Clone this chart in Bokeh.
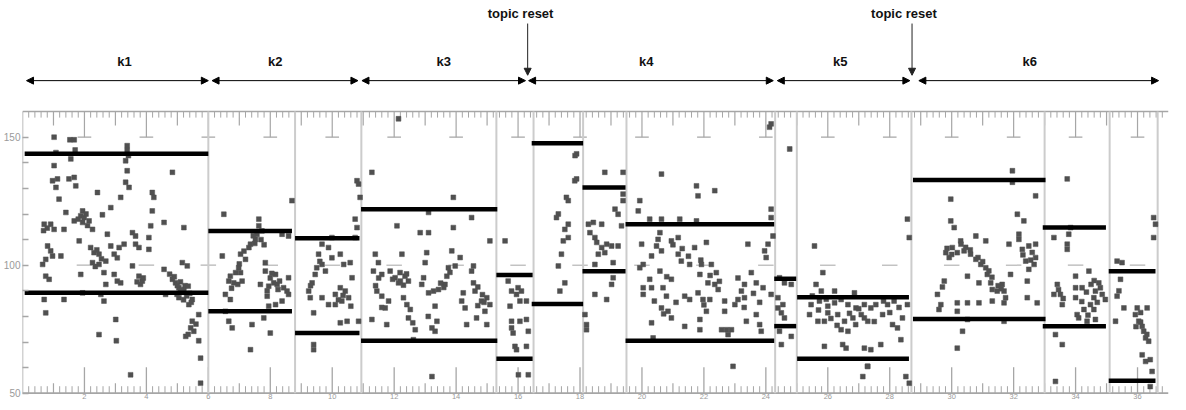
from bokeh.plotting import figure
from bokeh.models import Range1d, FixedTicker, Arrow, NormalHead, ColumnDataSource
from bokeh.embed import file_html
from bokeh.resources import INLINE
from bokeh.core.properties import value

# ---------------- data ----------------
# segment boundaries (x units) and the upper / lower bound bars of each segment
bar_start = [0.07, 6.0, 8.80, 10.93, 15.30, 16.44, 18.08, 19.47, 24.27, 25.01, 28.75, 32.94, 35.07]
bar_end   = [6.0, 8.70, 10.88, 15.33, 16.47, 18.10, 19.47, 24.27, 24.98, 28.62, 33.03, 34.98, 36.58]
bar_upper = [143.5, 113.4, 110.5, 121.9, 96.2, 147.6, 130.4, 116.0, 94.7, 87.5, 133.3, 114.7, 97.6]
bar_lower = [89.2, 82.0, 73.5, 70.5, 63.5, 84.8, 97.6, 70.5, 76.2, 63.5, 79.0, 76.2, 54.9]
boundaries = [6.0, 8.8, 10.94, 15.3, 16.5, 18.1, 19.5, 24.3, 25.0, 28.7, 33.0, 35.1, 36.65]

# header: topics k1..k6 and the two topic resets
topic_names = ["k1", "k2", "k3", "k4", "k5", "k6"]
topic_start = [0.13, 6.12, 10.96, 16.34, 24.37, 28.94]
topic_end   = [6.0, 10.83, 16.24, 24.24, 28.65, 36.68]
topic_label_x = [3.29, 8.16, 13.60, 20.14, 26.40, 32.52]
reset_x = [16.31, 28.72]
reset_text_x = [16.08, 28.46]
reset_labels = ["topic reset", "topic reset"]

# axis ticks
x_major = list(range(2, 37, 2))
x_major_labels = [str(t) for t in x_major]
y_ticks = list(range(50, 151, 10))

# scatter points
dot_x = [
    # k1
    1.02, 1.53, 1.67, 1.08, 1.70, 1.56, 3.38, 3.38, 3.42, 3.33, 3.38, 1.02, 0.97, 1.13, 1.08, 1.50,
    1.67, 1.72, 2.42, 3.33, 3.44, 3.17, 1.18, 4.19, 4.24, 4.84, 2.85, 4.19, 2.58, 1.40, 1.94, 1.88,
    1.99, 0.70, 0.91, 1.02, 1.34, 1.67, 1.94, 2.15, 2.26, 4.14, 4.57, 5.21, 2.74, 3.55, 3.65, 4.08,
    1.83, 0.81, 0.91, 2.20, 2.31, 2.47, 2.85, 3.12, 3.28, 3.65, 3.76, 4.08, 0.65, 0.75, 0.97, 1.24,
    2.26, 2.47, 2.69, 2.96, 3.06, 3.55, 4.57, 5.16, 5.32, 0.75, 0.86, 1.88, 2.63, 2.96, 3.06, 3.17,
    3.76, 3.87, 3.81, 4.84, 4.94, 5.05, 5.21, 4.99, 2.69, 0.70, 1.34, 1.94, 2.53, 2.63, 4.62, 5.05,
    5.48, 5.37, 0.75, 5.69, 5.48, 5.43, 5.27, 5.53, 3.01, 2.47, 3.03, 5.69, 5.75, 3.49, 5.75,
    5.10, 5.25, 5.40, 5.15, 5.60, 5.35,
    5.00, 5.10, 5.30, 5.20, 5.45, 5.35, 4.90, 4.75, 2.05, 1.80, 2.10, 2.40, 2.55, 2.35, 3.70, 3.90,
    0.80, 0.68,
    # k2
    6.50, 6.45, 7.04, 7.31, 7.63, 7.63, 7.57, 7.73, 7.52, 7.36, 7.20, 6.98, 6.88, 6.71, 6.66, 6.82,
    7.09, 7.04, 6.55, 6.71, 6.55, 6.66, 6.77, 7.41, 8.00, 7.36, 7.84, 7.84, 8.17, 8.11, 7.68, 7.95,
    8.22, 7.90, 7.79, 8.17, 8.38, 8.54, 8.59, 8.70, 8.38, 8.59, 8.59, 8.43, 7.70, 7.80, 8.00, 7.90,
    7.00, 7.15, 6.95, 6.75, 7.50, 7.45, 8.05, 8.25, 8.30, 7.95,
    9.99, 9.67, 9.88, 9.56, 9.99, 9.67, 9.78, 9.45, 9.35, 9.24, 9.29, 9.67, 10.10, 10.26, 10.42, 10.53,
    10.31, 10.10, 10.64, 10.37, 10.58, 10.26, 9.88, 9.40, 10.26, 10.48, 10.85, 9.40, 9.40, 10.80, 10.85,
    10.90, 10.74, 10.80, 10.74, 9.60, 9.50, 10.20, 10.35, 9.30, 10.60,
    # k3
    11.28, 12.09, 12.84, 13.11, 13.11, 13.91, 13.91, 14.50, 15.09, 13.05, 13.00, 13.86, 14.13, 14.56,
    14.50, 11.39, 11.49, 11.33, 11.60, 11.87, 12.03, 12.19, 12.35, 12.25, 12.14, 12.46, 12.95, 12.89,
    13.11, 13.27, 13.43, 13.64, 13.70, 13.75, 13.97, 11.44, 11.60, 11.82, 11.71, 12.30, 12.41, 12.52,
    12.46, 12.68, 13.32, 13.38, 13.22, 13.32, 14.23, 14.18, 14.29, 14.56, 14.61, 14.82, 14.99, 15.09,
    14.93, 14.66, 14.99, 14.34, 11.28, 11.76, 12.62, 13.22, 12.14,
    12.20, 12.30, 12.40, 11.95, 11.50, 11.40, 13.50, 13.60, 13.80, 14.70, 14.85, 14.90, 14.70, 13.10,
    12.60, 11.60,
    15.58, 15.68, 15.79, 16.00, 15.95, 16.11, 16.27, 16.06, 15.74, 15.79, 16.06, 16.27, 15.79, 15.84,
    16.33, 15.90, 15.95, 16.27, 16.01, 16.33,
    # k4
    17.89, 17.83, 17.62, 17.56, 17.30, 17.24, 17.62, 17.51, 17.46, 17.40, 17.30, 17.51, 17.35, 17.62,
    17.84, 17.89, 18.16, 18.21, 18.21,
    18.80, 19.39, 19.39, 19.39, 19.13, 19.23, 19.34, 18.27, 18.43, 18.70, 18.32, 18.48, 18.54, 18.70,
    18.86, 19.02, 19.23, 18.59, 18.80, 18.48, 19.07, 19.07, 19.02, 18.48, 18.86,
    20.63, 21.76, 21.81, 22.35, 19.93, 19.88, 20.25, 20.63, 21.22, 21.76, 24.17, 24.17, 24.23, 24.07,
    23.96, 24.01, 19.99, 20.58, 20.52, 20.47, 20.95, 21.17, 21.70, 22.08, 23.42, 20.63, 20.31, 21.17,
    21.27, 21.54, 21.92, 22.24, 22.40, 19.93, 20.04, 20.58, 20.25, 20.95, 20.04, 20.31, 20.04, 20.68,
    20.79, 21.38, 21.54, 21.81, 21.97, 22.19, 22.13, 22.35, 22.46, 21.87, 23.53, 23.31, 23.21, 23.10,
    23.00, 22.67, 22.67, 23.31, 23.69, 23.91, 24.17, 20.63, 20.84, 20.95, 22.08, 21.87, 21.38, 22.73,
    22.57, 22.89, 22.78, 23.37, 23.69, 23.80, 23.85, 21.87, 20.31, 20.36, 22.94, 24.12, 24.17,
    21.00, 21.30, 21.50, 21.90, 22.20, 22.50, 20.80, 23.10, 23.30, 23.80, 23.60, 22.00, 21.10, 20.40,
    20.70,
    # k5
    24.77, 24.44, 24.60, 24.82, 24.39, 24.55, 24.39, 24.50, 24.60, 24.44, 24.82, 24.50,
    25.57, 25.84, 25.62, 25.79, 26.22, 26.86, 25.46, 25.73, 26.00, 26.22, 26.43, 26.65, 26.91, 27.18,
    25.41, 25.68, 26.00, 26.32, 26.54, 26.81, 27.08, 27.29, 25.89, 26.43, 26.65, 25.89, 26.48, 26.59,
    27.18, 27.29, 27.13, 27.18, 27.39, 27.55, 27.77, 27.93, 28.09, 28.25, 28.41, 28.57, 28.14, 27.71,
    27.39, 28.36, 27.28, 28.52, 28.63, 28.57, 28.63,
    25.50, 25.95, 26.10, 26.70, 26.30, 27.00, 27.50, 27.80, 28.00, 28.30, 25.70, 26.90,
    # k6
    31.96, 31.96, 29.97, 32.71, 32.12, 32.33, 29.97, 30.08, 30.78, 31.10, 32.17, 32.17, 31.85, 32.28,
    32.49, 32.71, 32.71, 32.66, 32.49, 32.39, 31.90, 32.44, 30.29, 30.02, 29.81, 29.92, 30.18, 30.40,
    30.61, 30.78, 30.94, 31.10, 31.15, 30.88, 31.26, 31.31, 31.47, 31.63, 31.69, 31.74, 29.76, 30.51,
    29.54, 29.65, 29.59, 30.18, 30.18, 30.51, 30.88, 31.31, 31.69, 32.44, 32.76, 30.51, 30.35, 31.69,
    30.18,
    30.30, 30.45, 30.60, 30.85, 31.00, 31.20, 31.30, 31.50, 31.60, 30.00, 29.85, 32.30, 32.60, 32.55,
    29.70,
    33.73, 33.84, 33.78, 33.73, 33.73, 33.30, 34.00, 34.43, 34.00, 34.21, 33.41, 33.51, 33.57, 33.30,
    34.00, 34.75, 34.80, 34.64, 34.86, 34.59, 34.96, 34.48, 34.27, 34.05, 34.59, 34.37, 34.64, 34.10,
    33.35, 33.57, 33.35, 34.50, 34.60, 34.35, 34.70, 34.20, 34.40, 33.45, 33.60,
    35.50, 35.34, 35.45, 35.34, 35.56, 35.29, 35.99, 36.31, 35.93, 36.04, 36.15, 36.20, 36.26, 36.36,
    36.15, 36.41, 36.47, 36.52, 36.58, 36.52, 36.41, 36.26, 35.40, 36.10, 36.10, 36.30, 35.95,
]
dot_y = [
    # k1
    150.0, 149.0, 149.0, 144.0, 145.0, 141.5, 146.7, 144.8, 142.8, 140.8, 136.9, 138.9, 133.0, 133.7, 130.4, 133.7,
    134.3, 131.0, 128.4, 132.4, 130.4, 126.5, 125.8, 128.4, 126.5, 136.3, 122.5, 121.2, 119.7, 120.6, 121.2, 119.3,
    118.6, 116.0, 116.0, 114.0, 114.0, 117.3, 116.7, 117.3, 114.0, 115.4, 116.7, 114.7, 112.1, 112.7, 111.4, 110.8,
    109.5, 107.5, 105.6, 106.9, 104.9, 104.3, 107.5, 106.9, 108.2, 108.2, 106.9, 106.2, 100.3, 102.3, 103.6, 103.6,
    101.0, 100.3, 101.6, 104.3, 102.9, 99.7, 98.4, 101.0, 99.7, 95.7, 94.5, 96.4, 97.1, 96.4, 93.8, 93.1,
    95.7, 93.8, 92.5, 94.5, 93.1, 91.2, 90.5, 88.6, 92.5, 86.6, 86.6, 89.2, 88.6, 86.0, 88.6, 87.3,
    86.6, 84.6, 81.4, 80.7, 78.1, 75.5, 72.2, 74.2, 78.8, 72.9, 70.5, 70.5, 63.7, 57.2, 53.9,
    93.5, 92.0, 89.0, 89.5, 77.0, 73.0,
    92.0, 90.2, 88.0, 86.5, 85.5, 91.8, 95.5, 96.5, 120.0, 118.0, 115.5, 106.0, 102.5, 99.5, 93.5, 95.0,
    114.5, 113.5,
    # k2
    119.9, 103.6, 104.3, 106.9, 118.0, 115.4, 112.1, 113.4, 110.1, 108.2, 102.3, 99.0, 97.1, 95.7, 93.8, 93.1,
    93.8, 97.1, 88.6, 86.6, 82.0, 78.1, 75.5, 76.8, 73.5, 67.0, 101.0, 97.7, 96.4, 93.1, 92.5, 91.8,
    92.5, 87.9, 79.4, 84.6, 86.0, 89.9, 111.4, 125.2, 112.1, 95.1, 88.6, 91.2, 110.0, 108.0, 95.0, 90.0,
    100.5, 105.5, 92.5, 91.0, 108.5, 111.5, 96.8, 90.5, 93.8, 84.0,
    110.8, 108.2, 106.9, 104.3, 102.9, 100.3, 97.7, 96.4, 93.1, 89.9, 87.3, 87.3, 88.6, 91.2, 89.9, 87.3,
    86.0, 84.6, 95.1, 100.3, 101.0, 104.3, 84.6, 81.4, 77.5, 78.1, 78.1, 69.0, 67.0, 133.0, 131.7,
    126.5, 118.0, 114.7, 110.8, 101.5, 99.0, 86.5, 88.2, 92.0, 84.0,
    # k3
    136.3, 115.4, 112.7, 112.7, 120.6, 126.5, 114.7, 118.6, 109.5, 104.9, 101.0, 105.6, 103.0, 99.7,
    97.7, 104.3, 101.0, 97.7, 96.4, 97.7, 95.1, 97.1, 95.7, 104.3, 93.1, 93.8, 95.1, 92.5,
    89.2, 89.9, 90.5, 92.5, 95.7, 99.0, 99.7, 89.9, 87.9, 86.0, 83.3, 87.3, 84.6, 82.7,
    79.4, 74.8, 84.0, 78.1, 75.5, 74.2, 89.2, 86.0, 83.3, 93.1, 89.9, 86.0, 87.3, 84.6,
    82.0, 79.4, 76.8, 76.8, 78.8, 76.8, 70.9, 56.5, 157.2,
    93.8, 92.2, 96.6, 94.5, 95.0, 92.0, 93.0, 91.3, 97.2, 91.5, 88.5, 85.5, 84.2, 80.0,
    77.5, 83.5,
    109.5, 93.8, 89.9, 91.2, 88.6, 89.9, 86.0, 86.0, 84.0, 78.1, 78.1, 78.8, 75.5, 73.5,
    74.2, 68.3, 67.0, 68.3, 57.2, 57.2,
    # k4
    143.5, 133.0, 125.2, 126.5, 120.0, 118.6, 116.0, 114.0, 109.5, 104.3, 99.7, 93.1, 89.9, 110.8,
    142.8, 133.7, 80.7, 76.8, 74.8,
    136.3, 136.3, 127.8, 125.2, 121.9, 119.9, 115.4, 116.0, 116.7, 116.0, 112.7, 110.8, 108.9, 106.9,
    108.2, 107.5, 107.5, 104.3, 104.9, 100.3, 101.0, 95.1, 92.5, 88.6, 86.6,
    135.6, 131.0, 127.1, 129.1, 125.2, 121.2, 118.0, 118.0, 118.0, 117.3, 121.9, 118.6, 111.4, 108.2,
    105.6, 103.0, 108.2, 112.7, 110.1, 107.5, 109.5, 110.8, 106.9, 108.9, 108.2, 105.6, 103.6, 104.3,
    101.6, 100.3, 100.3, 100.3, 97.1, 99.0, 100.3, 97.7, 94.5, 94.5, 91.2, 91.2, 88.6, 91.2,
    87.9, 87.9, 86.6, 89.2, 86.6, 86.6, 93.1, 92.5, 90.5, 96.4, 97.1, 92.5, 89.9, 86.6,
    84.6, 86.0, 82.0, 87.3, 93.1, 91.2, 88.6, 83.3, 82.0, 79.4, 82.0, 78.8, 76.1, 74.8,
    74.8, 74.8, 72.9, 78.1, 80.7, 76.8, 74.2, 74.8, 77.5, 71.6, 60.5, 153.9, 155.2,
    108.0, 106.5, 103.5, 102.0, 96.0, 93.7, 95.5, 95.0, 83.5, 85.5, 89.0, 84.5, 85.5, 86.0,
    81.0,
    # k5
    145.4, 95.1, 93.1, 92.5, 87.3, 84.6, 83.3, 81.4, 79.4, 74.2, 72.2, 69.0,
    107.5, 97.1, 92.5, 89.9, 89.9, 89.2, 84.6, 86.0, 84.0, 85.3, 86.6, 84.6, 83.3, 84.6,
    80.7, 78.1, 81.4, 80.7, 78.1, 79.4, 80.7, 78.1, 78.1, 74.8, 74.2, 68.3, 69.0, 67.6,
    67.6, 60.5, 56.5, 79.4, 83.3, 84.6, 80.7, 84.6, 76.8, 75.5, 79.4, 84.6, 86.0, 69.0,
    67.0, 70.9, 60.5, 56.5, 53.9, 118.0, 110.8,
    88.0, 86.7, 79.2, 81.2, 76.5, 83.0, 78.0, 86.0, 81.5, 83.5, 82.5, 76.8,
    # k6
    136.9, 132.4, 125.8, 127.1, 119.9, 117.3, 117.3, 114.7, 111.4, 109.5, 112.1, 110.1, 108.2, 106.2,
    107.5, 108.2, 103.0, 100.3, 98.4, 101.6, 96.4, 93.8, 109.5, 106.9, 104.9, 103.0, 104.9, 105.6,
    104.3, 102.3, 100.3, 99.0, 96.4, 93.1, 93.1, 90.5, 89.9, 92.5, 89.9, 87.3, 93.8, 95.7,
    88.6, 84.6, 82.7, 85.3, 82.0, 85.3, 85.3, 86.0, 85.3, 87.3, 85.3, 78.8, 74.2, 78.1,
    67.6,
    108.2, 107.0, 106.0, 103.0, 101.4, 97.8, 95.3, 92.0, 90.8, 104.2, 106.6, 104.0, 105.0, 102.0,
    91.5,
    133.7, 114.7, 112.1, 108.2, 106.2, 110.8, 95.7, 97.7, 91.2, 91.2, 92.5, 88.6, 84.6, 88.6,
    87.3, 93.1, 91.2, 89.9, 88.6, 87.3, 86.6, 84.6, 82.7, 80.7, 82.7, 78.1, 78.8, 79.4,
    72.9, 69.0, 54.6, 92.5, 94.0, 89.5, 85.5, 85.8, 80.5, 90.5, 87.0,
    101.0, 101.6, 94.5, 87.9, 83.3, 78.1, 83.3, 83.3, 80.7, 78.1, 76.1, 74.2, 71.6, 70.3,
    65.0, 63.1, 58.5, 118.6, 116.0, 110.8, 52.6, 62.4, 90.0, 81.5, 77.8, 73.0, 76.0,
]

# ---------------- figure ----------------
Y_BOTTOM = 50.0
Y_TOP = 160.0      # top of the scanned frame
ARROW_Y = 172.1
LABEL_Y = 179.6
RESET_TEXT_Y = 198.3
RESET_TOP = 194.4
RESET_TIP = 174.2
PX = 2.56          # pixels per y unit (for tick lengths)

GRAY = "#a6a6a6"

p = figure(width=1170, height=402, x_range=Range1d(0, 37), y_range=Range1d(46.37, 203.4),
           output_backend="svg", toolbar_location=None,
           min_border_left=20, min_border_right=2, min_border_top=0, min_border_bottom=0)
p.grid.visible = False
p.outline_line_color = None
p.xaxis.visible = False

# y axis
p.yaxis.ticker = FixedTicker(ticks=y_ticks, minor_ticks=[])
p.yaxis.major_label_overrides = {t: "" for t in y_ticks if t not in (50, 100, 150)}
p.yaxis.axis_line_color = None
p.yaxis.major_tick_line_color = GRAY
p.yaxis.major_tick_line_width = 1.3
p.yaxis.major_tick_in = 6
p.yaxis.major_tick_out = 0
p.yaxis.major_label_text_font_size = "10px"
p.yaxis.major_label_text_color = "#9a9a9a"
p.yaxis.major_label_standoff = 2
p.yaxis.major_label_text_font = "Liberation Sans"

# left spine, top ruler line, bottom ruler line
p.segment(x0=[0], y0=[Y_BOTTOM], x1=[0], y1=[Y_TOP], line_color=GRAY, line_width=1.5)
p.segment(x0=[0], y0=[Y_TOP], x1=[37], y1=[Y_TOP], line_color=GRAY, line_width=1.5)
p.segment(x0=[0], y0=[Y_BOTTOM], x1=[37], y1=[Y_BOTTOM], line_color=GRAY, line_width=1.8)

# ruler tick positions
minor_pos = [round(i * 0.2, 2) for i in range(1, 185) if i % 5 != 0]
odd_pos = list(range(1, 37, 2))
n_min, n_odd, n_maj = len(minor_pos), len(odd_pos), len(x_major)

# top ruler ticks
p.segment(x0=minor_pos, y0=[Y_TOP] * n_min, x1=minor_pos, y1=[Y_TOP - 6 / PX] * n_min,
          line_color=GRAY, line_width=1)
p.segment(x0=odd_pos, y0=[Y_TOP] * n_odd, x1=odd_pos, y1=[Y_TOP - 14 / PX] * n_odd,
          line_color=GRAY, line_width=1.2)
p.segment(x0=x_major, y0=[Y_TOP] * n_maj, x1=x_major, y1=[150] * n_maj,
          line_color=GRAY, line_width=1.2)
p.segment(x0=[t - 0.22 for t in x_major], y0=[150] * n_maj, x1=[t + 0.22 for t in x_major],
          y1=[150] * n_maj, line_color=GRAY, line_width=1.2)
# short dashes at 100
p.segment(x0=[t - 0.25 for t in x_major], y0=[100] * n_maj, x1=[t + 0.25 for t in x_major],
          y1=[100] * n_maj, line_color="#b4b4b4", line_width=1.2)

# bottom ruler ticks
p.segment(x0=minor_pos, y0=[Y_BOTTOM] * n_min, x1=minor_pos, y1=[Y_BOTTOM + 7 / PX] * n_min,
          line_color=GRAY, line_width=1)
p.segment(x0=odd_pos, y0=[Y_BOTTOM] * n_odd, x1=odd_pos, y1=[Y_BOTTOM + 10 / PX] * n_odd,
          line_color=GRAY, line_width=1.2)
p.segment(x0=x_major, y0=[Y_BOTTOM] * n_maj, x1=x_major, y1=[Y_BOTTOM + 26 / PX] * n_maj,
          line_color=GRAY, line_width=1.3)
p.text(x=x_major, y=[Y_BOTTOM] * n_maj, text=x_major_labels, y_offset=0.5,
       text_font=value("Liberation Sans"), text_font_size="7.5px", text_color="#9a9a9a",
       text_align="center", text_baseline="top")

# segment boundaries
p.segment(x0=boundaries, y0=[Y_BOTTOM] * len(boundaries), x1=boundaries, y1=[Y_TOP] * len(boundaries),
          line_color="#cccccc", line_width=2)

# points
p.scatter(dot_x, dot_y, marker="square", size=4.8, fill_color="#505050", line_color="#505050",
          line_width=0.5)

# bound bars
p.segment(x0=bar_start, y0=bar_upper, x1=bar_end, y1=bar_upper, line_color="black", line_width=4.5)
p.segment(x0=bar_start, y0=bar_lower, x1=bar_end, y1=bar_lower, line_color="black", line_width=4.5)

# header arrows
arrow_src = ColumnDataSource(dict(x0=topic_start, x1=topic_end,
                                  y0=[ARROW_Y] * len(topic_start), y1=[ARROW_Y] * len(topic_start)))
p.add_layout(Arrow(start=NormalHead(size=7, fill_color="black", line_color="black", line_width=1),
                   end=NormalHead(size=7, fill_color="black", line_color="black", line_width=1),
                   x_start="x0", y_start="y0", x_end="x1", y_end="y1", source=arrow_src,
                   line_color="black", line_width=1))
reset_src = ColumnDataSource(dict(x0=reset_x, x1=reset_x, y0=[RESET_TOP] * 2, y1=[RESET_TIP] * 2))
p.add_layout(Arrow(end=NormalHead(size=7, fill_color="#222222", line_color="#222222", line_width=1),
                   x_start="x0", y_start="y0", x_end="x1", y_end="y1", source=reset_src,
                   line_color="#222222", line_width=1))

p.text(x=topic_label_x, y=[LABEL_Y] * len(topic_label_x), text=topic_names,
       text_font=value("Liberation Sans"), text_font_style="bold", text_font_size="13px",
       text_align="center", text_baseline="middle", text_color="#111111")
p.text(x=reset_text_x, y=[RESET_TEXT_Y] * 2, text=reset_labels,
       text_font=value("Liberation Sans"), text_font_style="bold", text_font_size="13px",
       text_align="center", text_baseline="middle", text_color="#111111")

open("out.html", "w").write(file_html(p, INLINE))
